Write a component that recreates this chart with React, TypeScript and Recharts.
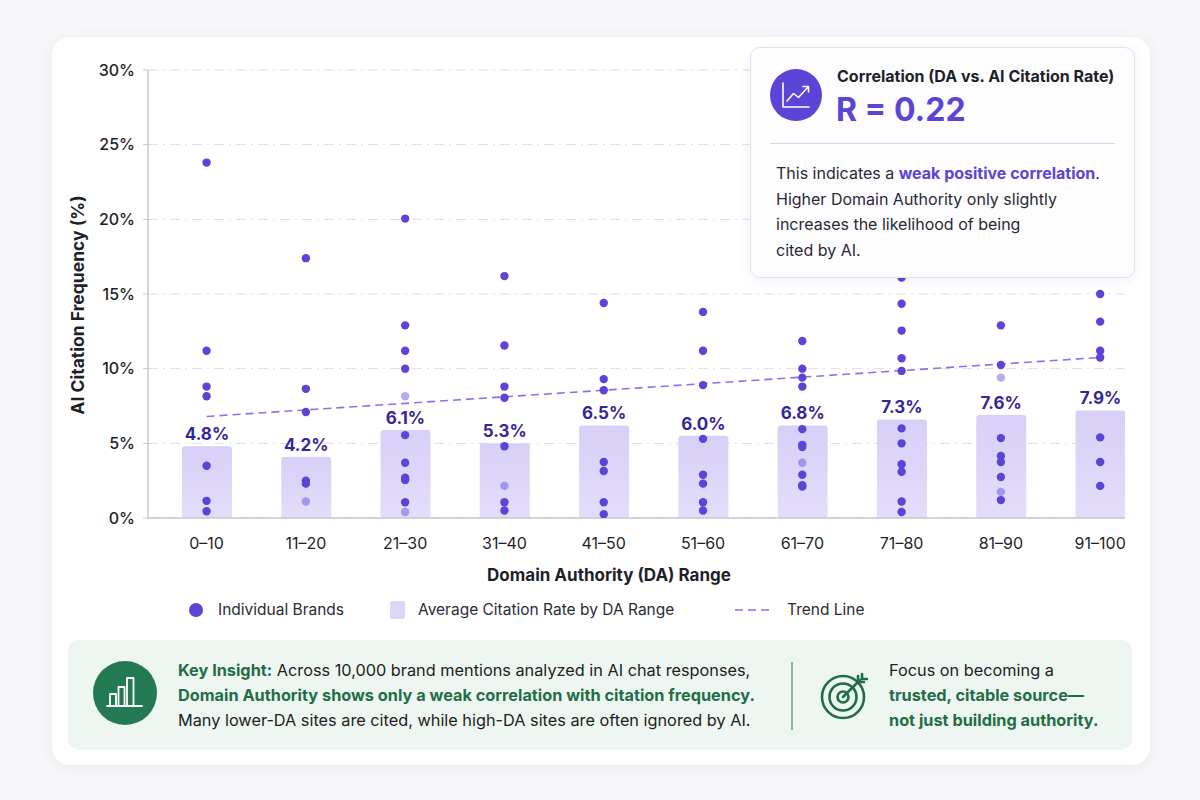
import React from 'react';
import {
  ComposedChart, Bar, Scatter, Line, XAxis, YAxis, CartesianGrid, LabelList,
} from 'recharts';

const daRanges = ['0–10', '11–20', '21–30', '31–40', '41–50', '51–60', '61–70', '71–80', '81–90', '91–100'];
// bar heights as drawn, and the printed averages above them
const avgBarHeights = [4.8, 4.1, 5.9, 5.0, 6.2, 5.5, 6.2, 6.6, 6.9, 7.2];
const avgLabels = ['4.8%', '4.2%', '6.1%', '5.3%', '6.5%', '6.0%', '6.8%', '7.3%', '7.6%', '7.9%'];
const trendStart = 6.8;
const trendEnd = 10.75;
const yTicks = [0, 5, 10, 15, 20, 25, 30];

// individual brands, one list per DA range
const brandDots = [
  [23.8, 11.2, 8.8, 8.15, 3.5, 1.15, 0.45],
  [17.4, 8.65, 7.1, 2.5, 2.3],
  [20.05, 12.9, 11.2, 10.0, 5.55, 3.7, 2.7, 2.55, 1.05],
  [16.2, 11.55, 8.8, 8.05, 4.8, 1.05, 0.5],
  [14.4, 9.3, 8.55, 3.75, 3.15, 1.05, 0.25],
  [13.8, 11.2, 8.9, 5.3, 2.9, 2.3, 1.05, 0.5],
  [11.85, 10.0, 9.4, 8.8, 5.95, 4.9, 4.75, 2.9, 2.2, 2.1],
  [16.1, 14.35, 12.55, 10.7, 9.85, 6.0, 5.0, 3.6, 3.1, 1.1, 0.4],
  [12.9, 10.25, 5.35, 4.15, 3.75, 2.75, 1.2],
  [15.0, 13.15, 11.2, 10.75, 5.4, 3.75, 2.15],
];
// lighter dots
const faintDots = [
  [], [1.1], [8.15, 0.4], [2.15], [], [], [3.7], [], [9.4, 1.75], [],
];

const FONT = 'Inter, "Noto Sans", sans-serif';
const PURPLE = '#5a45d6';
const GREEN = '#1f6e47';
const DARK = '#1f1f29';

const rows = daRanges.map((range, i) => ({
  idx: i,
  range,
  avg: avgBarHeights[i],
  label: avgLabels[i],
  trend: i === 0 ? trendStart : i === daRanges.length - 1 ? trendEnd : null,
}));

const toPoints = (lists: number[][]) =>
  lists.flatMap((vals, i) => vals.map((v) => ({ idx: i, v })));
const brandPoints = toPoints(brandDots);
const faintPoints = toPoints(faintDots);

const Dot = (opacity: number) => (p: any) => (
  <circle cx={p.cx} cy={p.cy} r={4.2} fill={PURPLE} fillOpacity={opacity} />
);

function TrendIcon() {
  return (
    <svg width={52} height={52} style={{ position: 'absolute', left: 770, top: 69 }}>
      <circle cx={26} cy={26} r={26} fill={PURPLE} />
      <g fill="none" stroke="#fff" strokeWidth={1.6} strokeLinecap="round" strokeLinejoin="round">
        <path d="M13 14 V38 H39" />
        <path d="M17 32 L23.5 24.5 L28.5 28.5 L38 18" />
        <path d="M33 17.5 L38.5 17.5 L38.5 23" />
      </g>
    </svg>
  );
}

function BarsIcon() {
  return (
    <svg width={64} height={64} style={{ position: 'absolute', left: 93, top: 661 }}>
      <circle cx={32} cy={32} r={32} fill="#237a52" />
      <g fill="none" stroke="#fff" strokeWidth={1.8} strokeLinejoin="round">
        <rect x={17} y={33} width={6} height={12} />
        <rect x={25.5} y={26} width={6} height={19} />
        <rect x={34} y={17} width={6.5} height={28} />
        <path d="M14 45 H49" strokeLinecap="round" />
      </g>
    </svg>
  );
}

function TargetIcon() {
  return (
    <svg width={60} height={60} style={{ position: 'absolute', left: 816, top: 667 }}>
      <g fill="none" stroke={GREEN} strokeWidth={2.6} strokeLinecap="round">
        <circle cx={27} cy={30} r={21} />
        <circle cx={27} cy={30} r={13.5} />
        <circle cx={27} cy={30} r={5.5} />
        <path d="M27 30 L44 13" />
        <path d="M42 9 L42 15 L48 15" />
        <path d="M46 7 L46 12 L51 12" />
      </g>
    </svg>
  );
}

export default function App() {
  return (
    <div style={{ position: 'absolute', left: 0, top: 0, width: 1200, height: 800, background: '#f7f7f9', fontFamily: FONT, overflow: 'hidden' }}>
      <div style={{
        position: 'absolute', left: 52, top: 37, width: 1098, height: 728,
        background: '#fff', borderRadius: 18, boxShadow: '0 2px 14px rgba(70,70,110,0.07)',
      }} />

      <div style={{ position: 'absolute', left: 0, top: 0 }}>
        <ComposedChart
          width={1200}
          height={600}
          data={rows}
          margin={{ top: 70, right: 75, bottom: 42, left: 88 }}
        >
          <defs>
            <linearGradient id="barFill" x1="0" y1="0" x2="0" y2="1">
              <stop offset="0%" stopColor="#d8cff7" />
              <stop offset="100%" stopColor="#e4ddfa" />
            </linearGradient>
          </defs>
          <CartesianGrid vertical={false} stroke="#dedce9" strokeDasharray="10 5 2 5" />
          <XAxis
            type="number"
            dataKey="idx"
            domain={[-0.59, 9.25]}
            ticks={[0, 1, 2, 3, 4, 5, 6, 7, 8, 9]}
            interval={0}
            allowDataOverflow
            tickFormatter={(i: number) => daRanges[i]}
            tick={{ fontFamily: FONT, fontSize: 16, fill: DARK }}
            tickLine={false}
            tickMargin={14}
            axisLine={{ stroke: '#c8c7d1', strokeWidth: 1.5 }}
            height={40}
          />
          <YAxis
            domain={[0, 30]}
            ticks={yTicks}
            allowDataOverflow
            tickFormatter={(v: number) => `${v}%`}
            tick={{ fontFamily: FONT, fontSize: 16, fill: DARK, fontWeight: 500 }}
            tickSize={5}
            tickMargin={8}
            tickLine={{ stroke: '#c8c7d1' }}
            axisLine={{ stroke: '#c8c7d1', strokeWidth: 1.5 }}
            width={60}
          />
          <Bar dataKey="avg" barSize={50} fill="url(#barFill)" radius={[3, 3, 0, 0]} isAnimationActive={false}>
            <LabelList
              dataKey="label"
              position="top"
              offset={6}
              style={{ fontFamily: FONT, fontSize: 17, fontWeight: 700, fill: '#32279a' }}
            />
          </Bar>
          <Line
            dataKey="trend"
            connectNulls
            dot={false}
            stroke="#8674ee"
            strokeWidth={1.6}
            strokeDasharray="8 5"
            isAnimationActive={false}
          />
          <Scatter data={faintPoints} dataKey="v" shape={Dot(0.45)} isAnimationActive={false} />
          <Scatter data={brandPoints} dataKey="v" shape={Dot(1)} isAnimationActive={false} />
        </ComposedChart>
      </div>

      {/* y axis title */}
      <div style={{
        position: 'absolute', left: 77, top: 305, transform: 'translate(-50%, -50%) rotate(-90deg)',
        whiteSpace: 'nowrap', fontSize: 17.5, fontWeight: 700, color: DARK,
      }}>
        AI Citation Frequency (%)
      </div>

      {/* x axis title */}
      <div style={{
        position: 'absolute', left: 609, top: 575, transform: 'translate(-50%, -50%)',
        whiteSpace: 'nowrap', fontSize: 17, fontWeight: 700, color: DARK,
      }}>
        Domain Authority (DA) Range
      </div>

      {/* legend */}
      <div style={{ position: 'absolute', left: 0, top: 600, height: 20, fontSize: 15.5, color: '#2b2b35' }}>
        <div style={{ position: 'absolute', left: 189, top: 3, width: 14, height: 14, borderRadius: 7, background: PURPLE }} />
        <div style={{ position: 'absolute', left: 218, top: 0, whiteSpace: 'nowrap', lineHeight: '20px' }}>Individual Brands</div>
        <div style={{ position: 'absolute', left: 390, top: 1, width: 15, height: 18, borderRadius: 2, background: '#ddd6f8' }} />
        <div style={{ position: 'absolute', left: 418, top: 0, whiteSpace: 'nowrap', lineHeight: '20px' }}>Average Citation Rate by DA Range</div>
        <svg width={40} height={20} style={{ position: 'absolute', left: 734, top: 0 }}>
          <line x1={1} y1={10} x2={39} y2={10} stroke="#8674ee" strokeWidth={1.6} strokeDasharray="8 5" />
        </svg>
        <div style={{ position: 'absolute', left: 787, top: 0, whiteSpace: 'nowrap', lineHeight: '20px' }}>Trend Line</div>
      </div>

      {/* correlation box */}
      <div style={{
        position: 'absolute', left: 750, top: 47, width: 385, height: 231, boxSizing: 'border-box',
        background: '#fdfcff', border: '1px solid #e4e0f4', borderRadius: 10,
        boxShadow: '0 3px 12px rgba(90,70,200,0.08)',
      }} />
      <TrendIcon />
      <div style={{ position: 'absolute', left: 837, top: 66, fontSize: 16, fontWeight: 700, color: DARK, whiteSpace: 'nowrap' }}>
        Correlation (DA vs. AI Citation Rate)
      </div>
      <div style={{ position: 'absolute', left: 836, top: 90, fontSize: 32, fontWeight: 700, color: PURPLE, whiteSpace: 'nowrap', lineHeight: '40px' }}>
        R = 0.22
      </div>
      <div style={{ position: 'absolute', left: 770, top: 143, width: 345, height: 1, background: '#d9d4ee' }} />
      <div style={{ position: 'absolute', left: 776, top: 161, width: 350, fontSize: 16, lineHeight: '25.5px', color: '#2a2a33' }}>
        This indicates a <span style={{ color: PURPLE, fontWeight: 700 }}>weak positive correlation</span>.<br />
        Higher Domain Authority only slightly<br />
        increases the likelihood of being<br />
        cited by AI.
      </div>

      {/* insight box */}
      <div style={{
        position: 'absolute', left: 68, top: 640, width: 1064, height: 110,
        background: '#eef6f1', borderRadius: 10,
      }} />
      <BarsIcon />
      <div style={{ position: 'absolute', left: 178, top: 658, fontSize: 16.3, lineHeight: '25px', color: '#222', whiteSpace: 'nowrap' }}>
        <span style={{ color: GREEN, fontWeight: 700 }}>Key Insight:</span> Across 10,000 brand mentions analyzed in AI chat responses,<br />
        <span style={{ color: GREEN, fontWeight: 700 }}>Domain Authority shows only a weak correlation with citation frequency.</span><br />
        Many lower-DA sites are cited, while high-DA sites are often ignored by AI.
      </div>
      <div style={{ position: 'absolute', left: 791, top: 662, width: 1.5, height: 68, background: '#8fb8a0' }} />
      <TargetIcon />
      <div style={{ position: 'absolute', left: 889, top: 658, fontSize: 16.3, lineHeight: '25px', color: '#222', whiteSpace: 'nowrap' }}>
        Focus on becoming a<br />
        <span style={{ color: GREEN, fontWeight: 700 }}>trusted, citable source—</span><br />
        <span style={{ color: GREEN, fontWeight: 700 }}>not just building authority.</span>
      </div>
    </div>
  );
}
